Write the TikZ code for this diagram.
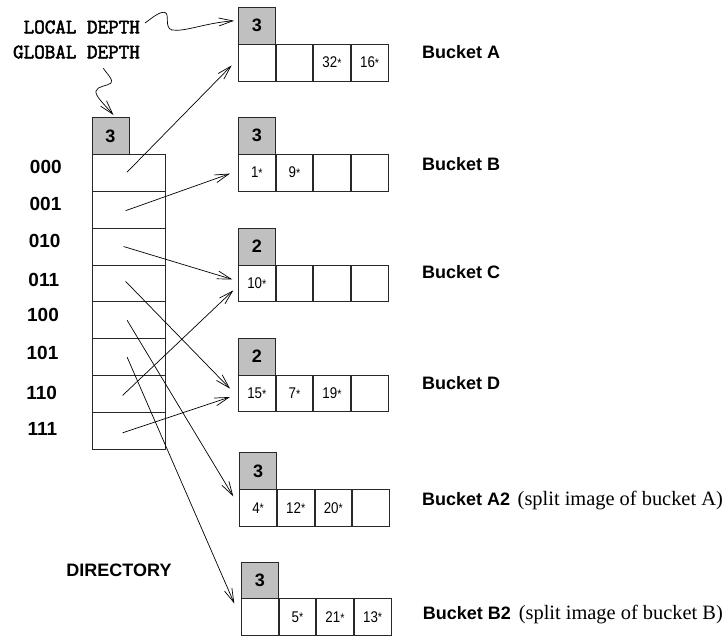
\documentclass[tikz,border=0pt]{standalone}
\usepackage{fontspec}
\usepackage{graphicx}
\setmainfont{Liberation Sans}
\newfontfamily\serifface{Liberation Serif}
\newfontfamily\monoface[FakeBold=2.5]{Latin Modern Mono}
\usetikzlibrary{arrows.meta,calc}
\definecolor{depthgray}{RGB}{192,192,192}
\definecolor{boxline}{RGB}{40,40,40}
\newcommand{\recstar}[1]{\scalebox{0.86}[1]{#1{\fontsize{12.5}{12.5}\selectfont\raisebox{0.5pt}{*}}}}
\tikzset{
  depthbox/.style={draw=boxline, fill=depthgray, minimum width=36.8pt, minimum height=36.8pt,
    inner sep=0pt, line width=0.8pt, font=\fontsize{18}{18}\selectfont\bfseries},
  cellbox/.style={draw=boxline, fill=white, minimum width=36.8pt, minimum height=36.8pt,
    inner sep=0pt, line width=0.8pt, font=\fontsize{15.5}{15.5}\selectfont},
  dirrow/.style={draw=boxline, fill=white, minimum width=73pt, minimum height=36.85pt,
    inner sep=0pt, line width=0.8pt},
  bitlab/.style={inner sep=0pt, font=\fontsize{19}{19}\selectfont\bfseries},
  blab/.style={inner sep=0pt, font=\fontsize{18}{18}\selectfont\bfseries},
  monolab/.style={inner sep=0pt, font=\fontsize{20.5}{20.5}\selectfont\monoface},
  seriflab/.style={inner sep=0pt, font=\fontsize{20.4}{20.4}\selectfont\serifface},
  ptr/.style={line width=0.7pt, -{Straight Barb[length=14pt,width=8pt,line width=0.7pt]}}
}
\newcommand{\mybucket}[8]{%
  \node[depthbox, anchor=north west] (#1-d) at (#2,#3) {#4};
  \node[cellbox, anchor=north west] (#1-1) at (#2,#3+36.8) {#5};
  \node[cellbox, anchor=north west] (#1-2) at (#1-1.north east) {#6};
  \node[cellbox, anchor=north west] (#1-3) at (#1-2.north east) {#7};
  \node[cellbox, anchor=north west] (#1-4) at (#1-3.north east) {#8};
}
\begin{document}
\begin{tikzpicture}[x=1pt,y=-1pt]
\useasboundingbox (0,0) rectangle (726,635);

% directory
\node[depthbox, anchor=north west] (dir-d) at (91.7,117.3) {3};
\foreach \i in {0,...,7}{
  \node[dirrow, anchor=north west] (dir\i) at (91.7,154+36.85*\i) {};
}
\node[bitlab] (b0) at (45.8,166.7) {000};
\node[bitlab] (b1) at (45.5,204.3) {001};
\node[bitlab] (b2) at (44.7,241) {010};
\node[bitlab] (b3) at (43.8,279.7) {011};
\node[bitlab] (b4) at (43,315.3) {100};
\node[bitlab] (b5) at (42.5,353) {101};
\node[bitlab] (b6) at (41.7,393.3) {110};
\node[bitlab] (b7) at (42.5,428.8) {111};
\node[blab, anchor=base] (dirlab) at (119,576.7) {DIRECTORY};

% buckets
\mybucket{bA}{238}{7}{3}{}{}{\recstar{32}}{\recstar{16}}
\mybucket{bB}{238}{117}{3}{\recstar{1}}{\recstar{9}}{}{}
\mybucket{bC}{238}{227.7}{2}{\recstar{10}}{}{}{}
\mybucket{bD}{238}{337.7}{2}{\recstar{15}}{\recstar{7}}{\recstar{19}}{}
\mybucket{bAA}{239.3}{452.3}{3}{\recstar{4}}{\recstar{12}}{\recstar{20}}{}
\mybucket{bBB}{241}{561.5}{3}{}{\recstar{5}}{\recstar{21}}{\recstar{13}}

% bucket labels
\node[blab, anchor=base west] (lA) at (422,58) {Bucket A};
\node[blab, anchor=base west] (lB) at (422,170) {Bucket B};
\node[blab, anchor=base west] (lC) at (422,278) {Bucket C};
\node[blab, anchor=base west] (lD) at (422,389) {Bucket D};
\node[blab, anchor=base west] (lAA) at (422,505) {Bucket A2};
\node[blab, anchor=base west] (lBB) at (422.7,619) {Bucket B2};
\node[seriflab, anchor=base east] (sAA) at (723,505) {(split image of bucket A)};
\node[seriflab, anchor=base east] (sBB) at (723,619) {(split image of bucket B)};

% depth labels
\node[monolab, anchor=base east] (local) at (140,33.3) {LOCAL DEPTH};
\node[monolab, anchor=base east] (global) at (140,58.3) {GLOBAL DEPTH};
\coordinate (ls) at (145,23);
\coordinate (gs) at (103.3,68.3);

\draw[ptr] (ls) .. controls (152,18) and (160,11) .. (165,12.5)
  .. controls (170,14) and (164,28) .. (172,30)
  .. controls (185,32) and (205,23) .. ($(bA-d.west)+(-4,-5)$);
\draw[ptr] (gs) .. controls (107,74) and (114,80) .. (111,83)
  .. controls (108,86) and (97,86) .. (96,91)
  .. controls (95,96) and (104,104) .. ($(dir-d.north)+(3,-2.3)$);

% pointers
\draw[ptr] ($(dir0.center)+(-1.5,-0.7)$) -- ($(bA-1.west)+(-6.3,2.8)$);
\draw[ptr] ($(dir1.center)+(-3,1)$) -- ($(bB-1.west)+(-8,1)$);
\draw[ptr] ($(dir2.center)+(-5,0)$) -- ($(bC-1.west)+(-5.7,-3.9)$);
\draw[ptr] ($(dir3.center)+(-3,-2)$) -- ($(bD-1.west)+(-8,-4.7)$);
\draw[ptr] ($(dir4.center)+(-1.5,0)$) -- ($(bAA-1.west)+(-6,-11.5)$);
\draw[ptr] ($(dir5.center)+(-1.5,0)$) -- ($(bBB-1.west)+(-6.7,-13.6)$);
\draw[ptr] ($(dir6.center)+(-6,1.5)$) -- ($(bC-1.west)+(-4.7,7.1)$);
\draw[ptr] ($(dir7.center)+(-6,2)$) -- ($(bD-1.west)+(-8,3.7)$);
\end{tikzpicture}
\end{document}
